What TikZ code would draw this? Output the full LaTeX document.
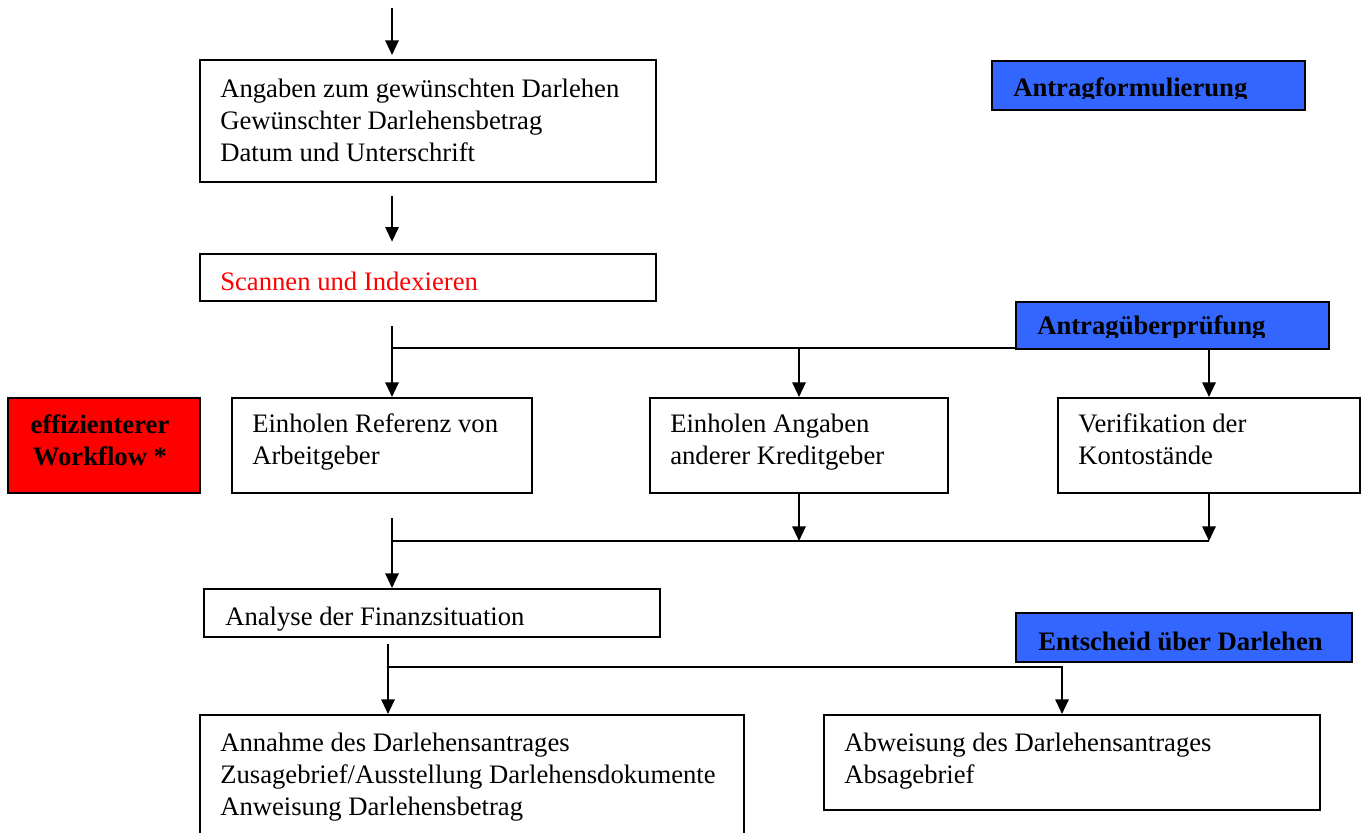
\documentclass[tikz,border=0pt]{standalone}
\usepackage{fontspec}
\setmainfont{Liberation Serif}
\usetikzlibrary{arrows.meta,fit}
\definecolor{hdrblue}{HTML}{3366FF}
\definecolor{wfred}{HTML}{FF0000}
\newcommand{\mlines}[1]{\begin{tabular}[t]{@{}l@{}}#1\end{tabular}}
\newcommand{\clines}[1]{\begin{tabular}[t]{@{}c@{}}#1\end{tabular}}
\begin{document}
\begin{tikzpicture}[x=0.75pt,y=-0.75pt,
  font=\fontsize{20}{24}\selectfont,
  box/.style={draw, line width=1.5pt, inner sep=0pt},
  bluebox/.style={box, fill=hdrblue},
  redbox/.style={box, fill=wfred},
  txt/.style={inner sep=0pt, anchor=base west},
  boldtxt/.style={inner sep=0pt, font=\fontsize{20}{24}\selectfont\bfseries},
  conn/.style={line width=1.5pt},
  arr/.style={conn, -{Triangle[width=10pt,length=11pt]}}]
\useasboundingbox (0,0) rectangle (1362,832);
\fill[white] (0,0) rectangle (1362,832);

% boxes
\node[box, fit={(200,60)(656,182)}] (b1) {};
\node[txt] (tb1) at (220,97) {\mlines{Angaben zum gewünschten Darlehen\\Gewünschter Darlehensbetrag\\Datum und Unterschrift}};
\node[box, fit={(200,254)(656,301)}] (scan) {};
\node[txt, text=wfred] (tscan) at (220,290) {Scannen und Indexieren};

\node[redbox, fit={(8,398)(200,493)}] (wf) {};
\node[boldtxt, anchor=base] (twf) at (100,433) {\clines{effizienterer\\Workflow *}};

\node[box, fit={(232,398)(532,493)}] (ref) {};
\node[txt] (tref) at (252,432) {\mlines{Einholen Referenz von\\Arbeitgeber}};
\node[box, fit={(650,398)(948,493)}] (ang) {};
\node[txt] (tang) at (670,432) {\mlines{Einholen Angaben\\anderer Kreditgeber}};
\node[box, fit={(1058,398)(1360,493)}] (ver) {};
\node[txt] (tver) at (1078,432) {\mlines{Verifikation der\\Kontostände}};

\node[box, fit={(204,589)(660,637)}] (ana) {};
\node[txt] (tana) at (225,625) {Analyse der Finanzsituation};

\node[box, fit={(200,715)(744,860)}] (ann) {};
\node[txt] (tann) at (220,751) {\mlines{Annahme des Darlehensantrages\\Zusagebrief/Ausstellung Darlehensdokumente\\Anweisung Darlehensbetrag}};
\node[box, fit={(824,715)(1320,810)}] (abw) {};
\node[txt] (tabw) at (844,751) {\mlines{Abweisung des Darlehensantrages\\Absagebrief}};

% connectors
\coordinate (in) at (392,8);
\draw[arr, shorten >=3pt] (in) -- (in |- b1.north);
\draw[arr, shorten <=9.75pt, shorten >=8.5pt] (b1.south -| in) -- (scan.north -| in);
\draw[arr, shorten <=18pt] (scan.south -| in) -- (ref.north -| in);
\coordinate (j1) at (392,348);
\draw[conn] (j1) -- (j1 -| ver.north);
\draw[arr] (j1 -| ang.north) -- (ang.north);
\draw[arr] (j1 -| ver.north) -- (ver.north);

\coordinate (j2) at (392,541);
\draw[arr] (ang.south) -- (ang.south |- j2);
\draw[arr] (ver.south) -- (ver.south |- j2);
\draw[conn] (j2) -- (j2 -| ver.south);
\draw[arr, shorten <=18pt] (ref.south -| in) -- (ana.north -| in);

\coordinate (in2) at (388,643);
\coordinate (j3) at (388,667);
\coordinate (r3) at (1062,667);
\draw[arr, shorten <=4.5pt] (ana.south -| in2) -- (ann.north -| in2);
\draw[arr] (j3) -- (r3) -- (r3 |- abw.north);

% blue headers
\node[bluebox, fit={(992,61)(1305,110)}] (h1) {};
\begin{scope}
  \clip (992,61) rectangle (1305,98.5);
  \node[txt, font=\fontsize{20}{24}\selectfont\bfseries] (th1) at (1013,96) {Antragformulierung};
\end{scope}
\node[bluebox, fit={(1016,302)(1329,349)}] (h2) {};
\begin{scope}
  \clip (1016,302) rectangle (1329,337);
  \node[txt, font=\fontsize{20}{24}\selectfont\bfseries] (th2) at (1037,334) {Antragüberprüfung};
\end{scope}
\node[bluebox, fit={(1016,613)(1352,662)}] (h3) {};
\node[txt, font=\fontsize{20}{24}\selectfont\bfseries] (th3) at (1038,650) {Entscheid über Darlehen};
\end{tikzpicture}
\end{document}
